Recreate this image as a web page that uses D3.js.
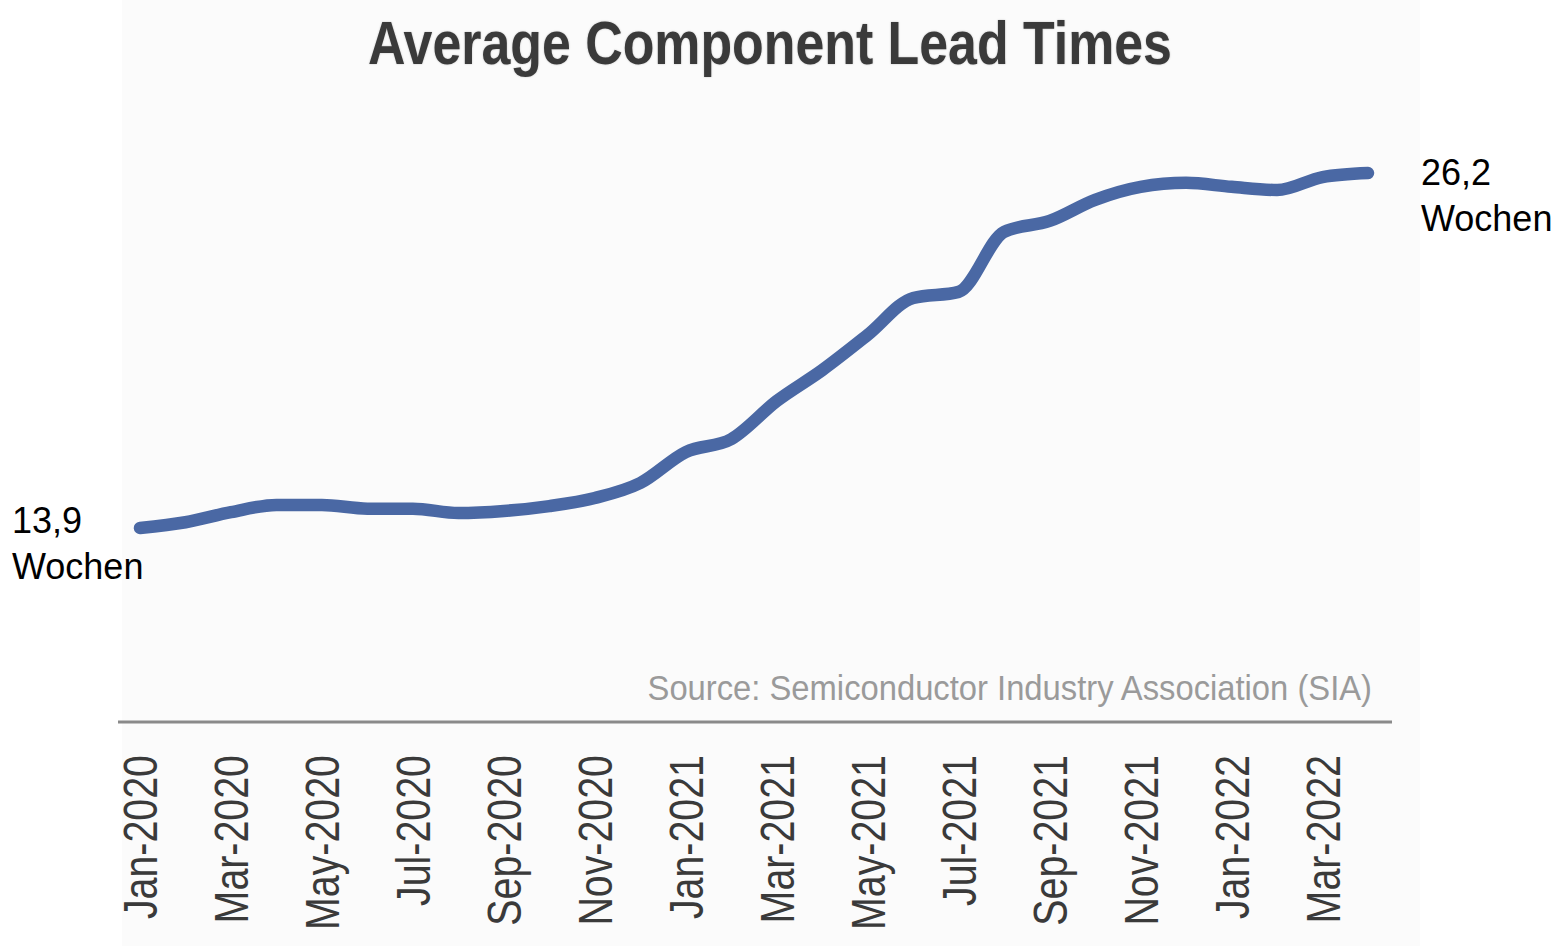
<!DOCTYPE html>
<html>
<head>
<meta charset="utf-8">
<script src="https://cdn.jsdelivr.net/npm/d3@7"></script>
<style>
  html, body { margin: 0; padding: 0; background: #ffffff; }
  svg { display: block; }
</style>
</head>
<body>
<svg id="chart" width="1562" height="946"></svg>
<script>
// Monthly average lead time in weeks, Jan-2020 .. Apr-2022
const months = [
  "Jan-2020","Feb-2020","Mar-2020","Apr-2020","May-2020","Jun-2020",
  "Jul-2020","Aug-2020","Sep-2020","Oct-2020","Nov-2020","Dec-2020",
  "Jan-2021","Feb-2021","Mar-2021","Apr-2021","May-2021","Jun-2021",
  "Jul-2021","Aug-2021","Sep-2021","Oct-2021","Nov-2021","Dec-2021",
  "Jan-2022","Feb-2022","Mar-2022","Apr-2022"
];
const leadWeeks = [
  13.9, 14.1, 14.45, 14.7, 14.7, 14.57,
  14.57, 14.42, 14.49, 14.66, 14.94, 15.46,
  16.53, 16.98, 18.3, 19.37, 20.59, 21.87,
  22.08, 24.16, 24.54, 25.27, 25.72, 25.86,
  25.72, 25.61, 26.06, 26.2
];
// Every second month gets an axis label
const tickLabels = [
  "Jan-2020","Mar-2020","May-2020","Jul-2020","Sep-2020","Nov-2020",
  "Jan-2021","Mar-2021","May-2021","Jul-2021","Sep-2021","Nov-2021",
  "Jan-2022","Mar-2022"
];
const titleText = "Average Component Lead Times";
const sourceText = "Source: Semiconductor Industry Association (SIA)";
const startLabel = ["13,9", "Wochen"];
const endLabel = ["26,2", "Wochen"];

const svg = d3.select("#chart");
const sans = "'Liberation Sans', Arial, sans-serif";
const condense = 0.82; // horizontal squeeze for the narrow-style texts

// faint panel behind the chart
svg.append("rect")
  .attr("x", 122).attr("y", 0)
  .attr("width", 1298).attr("height", 946)
  .attr("fill", "#fbfbfb");

const x = d3.scalePoint().domain(months).range([140, 1368]);
const y = d3.scaleLinear().domain([13.9, 26.2]).range([528, 173]);

// title (condensed bold)
svg.append("text")
  .attr("transform", `translate(770,64) scale(0.85,1)`)
  .attr("text-anchor", "middle")
  .attr("font-family", sans)
  .attr("font-weight", "bold")
  .attr("font-size", 61)
  .attr("fill", "#3a3a3a")
  .style("text-shadow", "0 0 2px rgba(0,0,0,0.25)")
  .text(titleText);

// data line
const line = d3.line()
  .x((d, i) => x(months[i]))
  .y(d => y(d))
  .curve(d3.curveMonotoneX);

svg.append("path")
  .datum(leadWeeks)
  .attr("d", line)
  .attr("fill", "none")
  .attr("stroke", "#4a68a4")
  .attr("stroke-width", 12.5)
  .attr("stroke-linecap", "round")
  .attr("stroke-linejoin", "round");

// source note (condensed)
svg.append("text")
  .attr("transform", `translate(1372,700) scale(0.91,1)`)
  .attr("text-anchor", "end")
  .attr("font-family", sans)
  .attr("font-size", 36)
  .attr("fill", "#9a9a9a")
  .text(sourceText);

// x axis
const xAxis = d3.axisBottom(x)
  .tickValues(tickLabels)
  .tickSize(0)
  .tickPadding(0);

const axisG = svg.append("g")
  .attr("transform", "translate(0,722)")
  .call(xAxis);

axisG.select(".domain")
  .attr("d", "M118,0H1392")
  .attr("stroke", "#8a8a8a")
  .attr("stroke-width", 3);

axisG.selectAll(".tick text")
  .attr("font-family", sans)
  .attr("font-size", 48)
  .attr("fill", "#3a3a3a")
  .attr("text-anchor", "end")
  .attr("x", 0)
  .attr("y", 0)
  .attr("dy", "0.35em")
  .attr("transform", `translate(0,33) rotate(-90) scale(${condense},1)`);

// end-point annotations
function annotate(lines, xPos, baseY) {
  const t = svg.append("text")
    .attr("font-family", sans)
    .attr("font-size", 36)
    .attr("fill", "#000");
  lines.forEach((s, i) => {
    t.append("tspan").attr("x", xPos).attr("y", baseY + i * 46).text(s);
  });
}
annotate(startLabel, 12, 533);
annotate(endLabel, 1421, 185);
</script>
</body>
</html>
